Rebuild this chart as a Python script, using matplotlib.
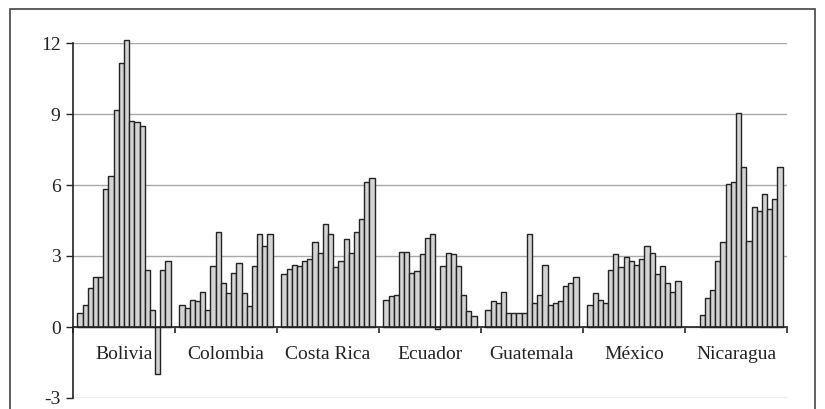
import numpy as np
import matplotlib
matplotlib.use("Agg")
import matplotlib.pyplot as plt
from matplotlib.patches import Rectangle

nan = np.nan

countries = ["Bolivia", "Colombia", "Costa Rica", "Ecuador", "Guatemala", "México", "Nicaragua"]

bolivia = [0.58, 0.93, 1.66, 2.13, 2.13, 5.83, 6.39, 9.17, 11.14, 12.13,
           8.72, 8.67, 8.5, 2.41, 0.72, -2.0, 2.42, 2.77]
colombia = [0.93, 0.80, 1.15, 1.08, 1.48, 0.73, 2.56, 4.01, 1.86, 1.42,
            2.28, 2.70, 1.42, 0.89, 2.56, 3.93, 3.42, 3.93]
costa_rica = [2.24, 2.45, 2.62, 2.56, 2.79, 2.87, 3.58, 3.13, 4.35, 3.92,
              2.52, 2.79, 3.70, 3.13, 4.0, 4.55, 6.13, 6.28]
ecuador = [1.15, 1.30, 1.35, 3.15, 3.15, 2.28, 2.37, 3.08, 3.76, 3.94,
           -0.1, 2.56, 3.14, 3.08, 2.56, 1.35, 0.68, 0.45]
guatemala = [0.72, 1.08, 1.0, 1.48, 0.58, 0.58, 0.58, 0.58, 3.94, 1.0,
             1.35, 2.62, 0.93, 1.0, 1.08, 1.72, 1.86, 2.13]
mexico = [0.93, 1.42, 1.14, 1.01, 2.41, 3.08, 2.54, 2.94, 2.79, 2.61,
          2.86, 3.42, 3.13, 2.23, 2.56, 1.86, 1.48, 1.93]
nicaragua = [nan, nan, 0.52, 1.23, 1.58, 2.77, 3.61, 6.04, 6.13, 9.04,
             6.75, 3.62, 5.07, 4.90, 5.61, 4.99, 5.41, 6.75]

series = [bolivia, colombia, costa_rica, ecuador, guatemala, mexico, nicaragua]
yticks = [-3, 0, 3, 6, 9, 12]

fig = plt.figure(figsize=(8.25, 4.09), dpi=100)
ax = fig.add_axes([73 / 825, 1 - 398 / 409, (787 - 73) / 825, (398 - 43) / 409])

gap = 0.085
for i, vals in enumerate(series):
    n = len(vals)
    bw = (1 - gap) / n
    xs = i + gap / 2 + (np.arange(n) + 0.5) * bw
    ax.bar(xs, vals, width=bw, color="#d3d3d3", edgecolor="#222222",
           linewidth=1.0, zorder=3, clip_on=False)

ax.set_xlim(0, len(countries))
ax.set_ylim(-3, 12)
ax.set_yticks(yticks)
ax.set_yticklabels([str(t) for t in yticks])
ax.grid(axis="y", color="#a8a8a8", linewidth=1.0, zorder=0)
ax.set_axisbelow(True)

ax.set_xticks(np.arange(len(countries)) + 0.5)
ax.set_xticklabels(countries)
ax.set_xticks(np.arange(len(countries) + 1), minor=True)
ax.tick_params(axis="x", which="major", length=0, pad=14)
ax.tick_params(axis="x", which="minor", length=4, width=1.2, direction="out", color="#222222")
ax.tick_params(axis="y", length=5, width=1, direction="out", color="#222222", pad=4)

for s in ["top", "right"]:
    ax.spines[s].set_visible(False)
ax.spines["bottom"].set_position(("data", 0))
ax.spines["bottom"].set_color("#222222")
ax.spines["bottom"].set_linewidth(1.2)
ax.spines["bottom"].set_zorder(4)
ax.spines["left"].set_color("#222222")
ax.spines["left"].set_linewidth(1.2)

for lab in ax.get_xticklabels() + ax.get_yticklabels():
    lab.set_fontfamily("Liberation Serif")
    lab.set_fontsize(14)
    lab.set_color("#222222")

# outer frame
fig.patches.append(Rectangle((10 / 825, -0.05), (815 - 10) / 825, 1 - 9 / 409 + 0.05,
                             transform=fig.transFigure, fill=False,
                             edgecolor="#444444", linewidth=1.2))

fig.savefig("out.png", dpi=100)
